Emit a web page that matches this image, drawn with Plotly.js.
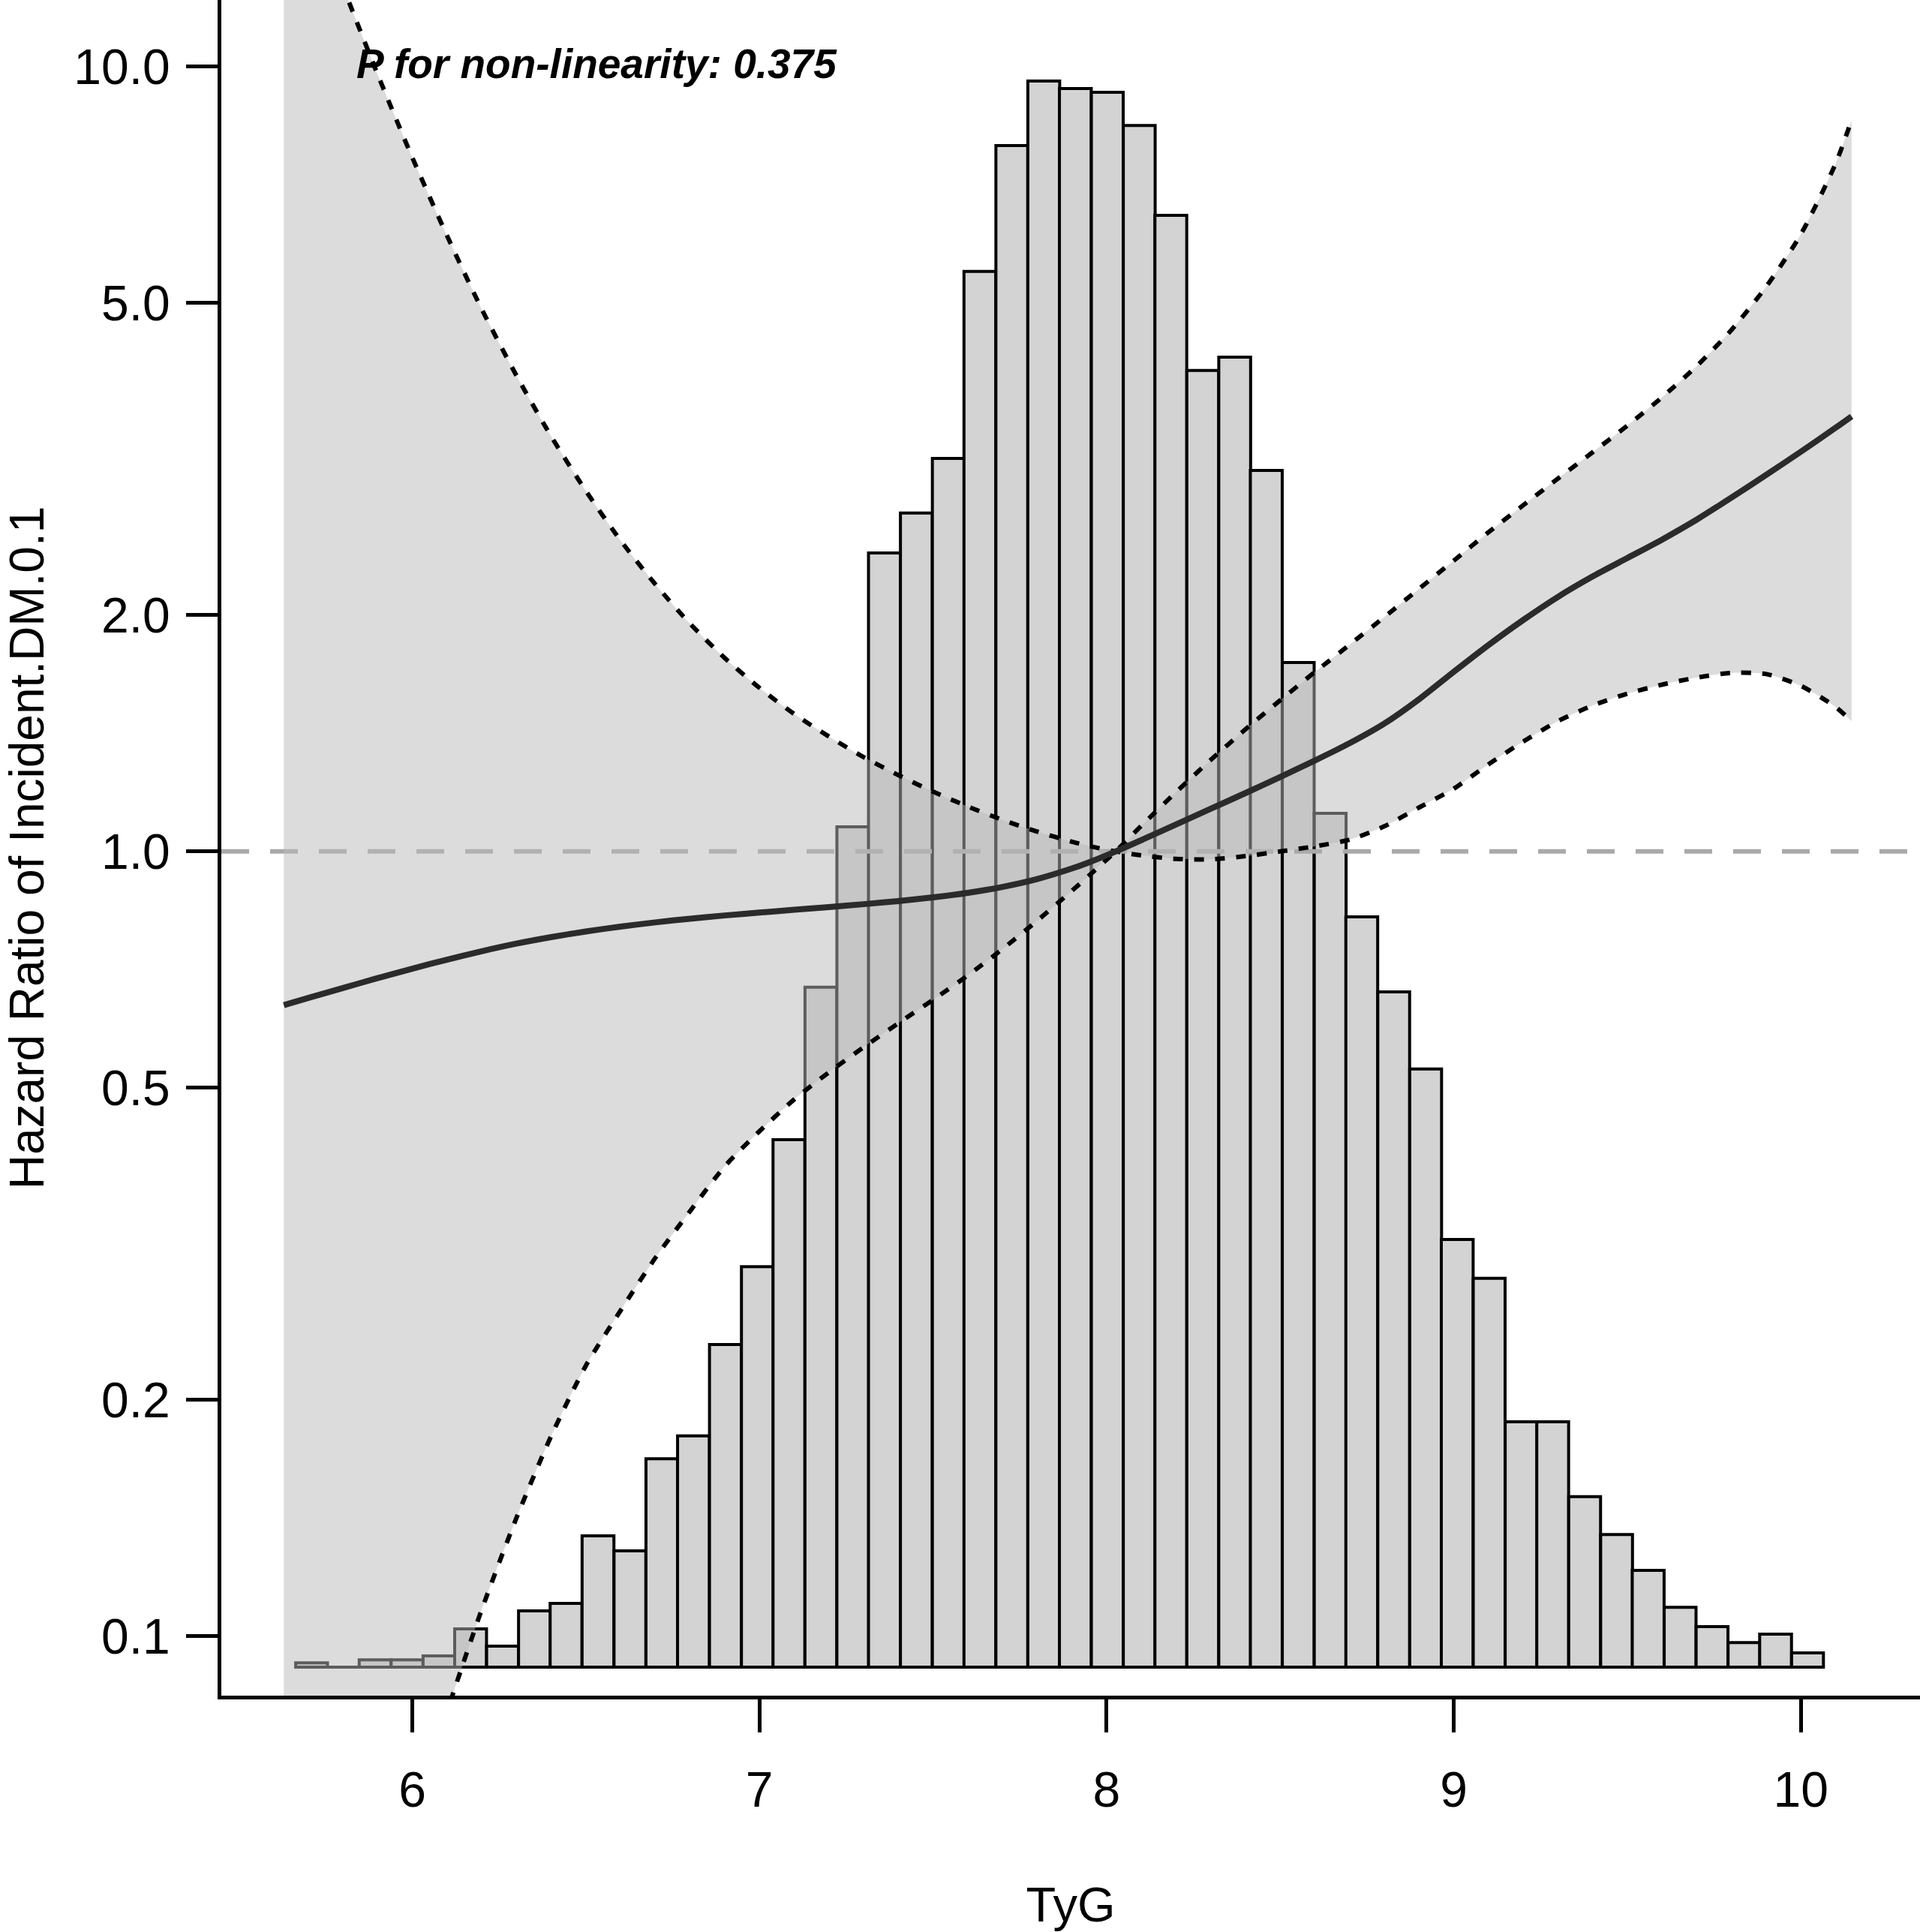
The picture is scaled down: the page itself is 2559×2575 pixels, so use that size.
<!DOCTYPE html>
<html>
<head>
<meta charset="utf-8">
<script src="https://cdn.plot.ly/plotly-3.0.1.min.js"></script>
<style>
html,body{margin:0;padding:0;background:#fff;}
#chart{width:2559px;height:2575px;}
</style>
</head>
<body>
<div id="chart"></div>
<script>
// ---- Restricted cubic spline: TyG vs hazard ratio (reference value TyG = 8.026) ----
const tyg = [5.63,5.70,5.80,5.90,6.00,6.10,6.20,6.30,6.40,6.50,6.60,6.70,6.80,6.90,7.00,7.10,7.20,7.30,7.40,7.50,7.60,7.70,7.80,7.90,7.95,8.026,8.10,8.20,8.30,8.40,8.50,8.60,8.70,8.80,8.90,9.00,9.10,9.20,9.30,9.40,9.50,9.60,9.70,9.80,9.90,10.00,10.10,10.146];
const hr = [0.6370,0.6505,0.6699,0.6895,0.7090,0.7280,0.7462,0.7630,0.7777,0.7907,0.8021,0.8121,0.8210,0.8288,0.8359,0.8427,0.8495,0.8566,0.8645,0.8739,0.8857,0.9012,0.9222,0.9512,0.9689,1.0000,1.0337,1.0824,1.1334,1.1868,1.2442,1.3058,1.3737,1.4551,1.5628,1.6939,1.8323,1.9720,2.1104,2.2406,2.3652,2.4968,2.6476,2.8242,3.0190,3.2311,3.4665,3.5842];
const hrLower = [0.0148,0.0194,0.0284,0.0409,0.0578,0.0801,0.1081,0.1415,0.1799,0.2212,0.260,0.3034,0.348,0.397,0.440,0.483,0.523,0.563,0.604,0.647,0.695,0.751,0.816,0.891,0.932,1.000,0.9886,0.9784,0.9772,0.9863,1.000,1.0151,1.0351,1.0765,1.1376,1.2023,1.2912,1.3804,1.4655,1.5346,1.5888,1.6313,1.6655,1.6887,1.6827,1.6255,1.5276,1.4655];
const hrUpper = [20.3,16.6,12.66,9.78,7.66,6.09,4.91,4.04,3.38,2.88,2.49,2.19,1.951,1.764,1.616,1.497,1.401,1.319,1.251,1.192,1.141,1.097,1.060,1.029,1.016,1.000,1.078,1.190,1.308,1.431,1.558,1.693,1.834,1.989,2.161,2.347,2.551,2.761,2.986,3.226,3.488,3.790,4.155,4.619,5.244,6.116,7.525,8.551];
const refTyG = 8.026;

// ---- Histogram of TyG (percent of participants per bin) ----
const binMid = [5.710,5.802,5.893,5.985,6.077,6.168,6.260,6.352,6.443,6.535,6.627,6.719,6.810,6.902,6.994,7.085,7.177,7.269,7.360,7.452,7.544,7.635,7.727,7.819,7.910,8.002,8.094,8.185,8.277,8.369,8.460,8.552,8.644,8.735,8.827,8.919,9.010,9.102,9.194,9.285,9.377,9.469,9.560,9.652,9.744,9.836,9.927,10.019];
const binPct = [0.016,0.000,0.027,0.027,0.041,0.140,0.077,0.206,0.233,0.480,0.425,0.762,0.845,1.179,1.464,1.928,2.485,3.071,4.072,4.218,4.418,5.101,5.561,5.797,5.770,5.756,5.635,5.306,4.739,4.788,4.374,3.672,3.121,2.742,2.468,2.186,1.563,1.421,0.897,0.897,0.623,0.485,0.354,0.219,0.148,0.090,0.121,0.052];
const binWidth = 0.0917;

// ---- Axis ticks and labels ----
const xTickVals = [6,7,8,9,10];
const yTickVals = [0.1,0.2,0.5,1,2,5,10];
const yTickText = ['0.1','0.2','0.5','1.0','2.0','5.0','10.0'];
const refHR = 1;
const pNonLinear = '0.375';
const xTitle = 'TyG';
const yTitle = 'Hazard Ratio of Incident.DM.0.1';

const FONT = 'Liberation Sans, Arial, Helvetica, sans-serif';
const xRange = [5.450, 10.343];

// the two dotted confidence curves cross at the reference value
const refIdx = tyg.indexOf(refTyG);
const ciCurveA = tyg.map((x, i) => i <= refIdx ? hrUpper[i] : hrLower[i]);
const ciCurveB = tyg.map((x, i) => i <= refIdx ? hrLower[i] : hrUpper[i]);

const dotted = {color:'#000000', width:6, dash:'13px,15px', shape:'spline', smoothing:0.7};

const traces = [
  {
    type:'bar', x: binMid, y: binPct, width: binWidth,
    xaxis:'x', yaxis:'y',
    marker:{color:'#d3d3d3', line:{color:'#000000', width:4}},
    hoverinfo:'skip'
  },
  {
    type:'scatter', mode:'lines', x: xRange, y:[refHR, refHR],
    xaxis:'x', yaxis:'y2',
    line:{color:'#a9a9a9', width:6, dash:'37px,28px'},
    hoverinfo:'skip'
  },
  {
    type:'scatter', mode:'lines', x: tyg, y: hrLower,
    xaxis:'x', yaxis:'y2',
    line:{color:'rgba(0,0,0,0)', width:0, shape:'spline', smoothing:0.7},
    hoverinfo:'skip'
  },
  {
    type:'scatter', mode:'lines', x: tyg, y: hrUpper,
    xaxis:'x', yaxis:'y2',
    fill:'tonexty', fillcolor:'rgba(185,185,185,0.5)',
    line:{color:'rgba(0,0,0,0)', width:0, shape:'spline', smoothing:0.7},
    hoverinfo:'skip'
  },
  {
    type:'scatter', mode:'lines', x: tyg, y: ciCurveA,
    xaxis:'x', yaxis:'y2', line: dotted, hoverinfo:'skip'
  },
  {
    type:'scatter', mode:'lines', x: tyg, y: ciCurveB,
    xaxis:'x', yaxis:'y2', line: dotted, hoverinfo:'skip'
  },
  {
    type:'scatter', mode:'lines', x: tyg, y: hr,
    xaxis:'x', yaxis:'y2',
    line:{color:'#2b2b2b', width:8, shape:'spline', smoothing:0.7},
    hoverinfo:'skip'
  }
];

const layout = {
  width:2559, height:2575,
  margin:{l:295, r:0, t:0, b:315, pad:0},
  paper_bgcolor:'#ffffff', plot_bgcolor:'rgba(0,0,0,0)',
  showlegend:false,
  bargap:0,
  font:{family:FONT, color:'#000000'},
  xaxis:{
    range:xRange, tickvals:xTickVals, ticktext:xTickVals.map(String),
    ticks:'outside', ticklen:44, tickwidth:5, tickcolor:'#000',
    showline:true, linewidth:5, linecolor:'#000',
    showgrid:false, zeroline:false,
    tickfont:{size:66, family:FONT, color:'#000'},
    ticklabelstandoff:20,
    title:{text:xTitle, font:{size:65, family:FONT, color:'#000'}, standoff:104}
  },
  yaxis:{
    range:[-0.1042, 6.0933], visible:false, showgrid:false, zeroline:false
  },
  yaxis2:{
    type:'log', overlaying:'y', side:'left', anchor:'x',
    range:[-1.0757, 1.0849],
    tickvals:yTickVals, ticktext:yTickText,
    ticks:'outside', ticklen:42, tickwidth:5, tickcolor:'#000',
    showline:true, linewidth:5, linecolor:'#000',
    showgrid:false, zeroline:false,
    tickfont:{size:66, family:FONT, color:'#000'},
    ticklabelstandoff:8,
    title:{text:yTitle, font:{size:64, family:FONT, color:'#000'}, standoff:38}
  },
  annotations:[{
    xref:'x', yref:'y2', x:6.532, y:1.0036,
    text:'<b><i>P for non-linearity: ' + pNonLinear + '</i></b>',
    showarrow:false, xanchor:'center', yanchor:'middle',
    font:{size:55, family:FONT, color:'#000'}
  }]
};

Plotly.newPlot('chart', traces, layout, {displayModeBar:false, staticPlot:true});
</script>
</body>
</html>
